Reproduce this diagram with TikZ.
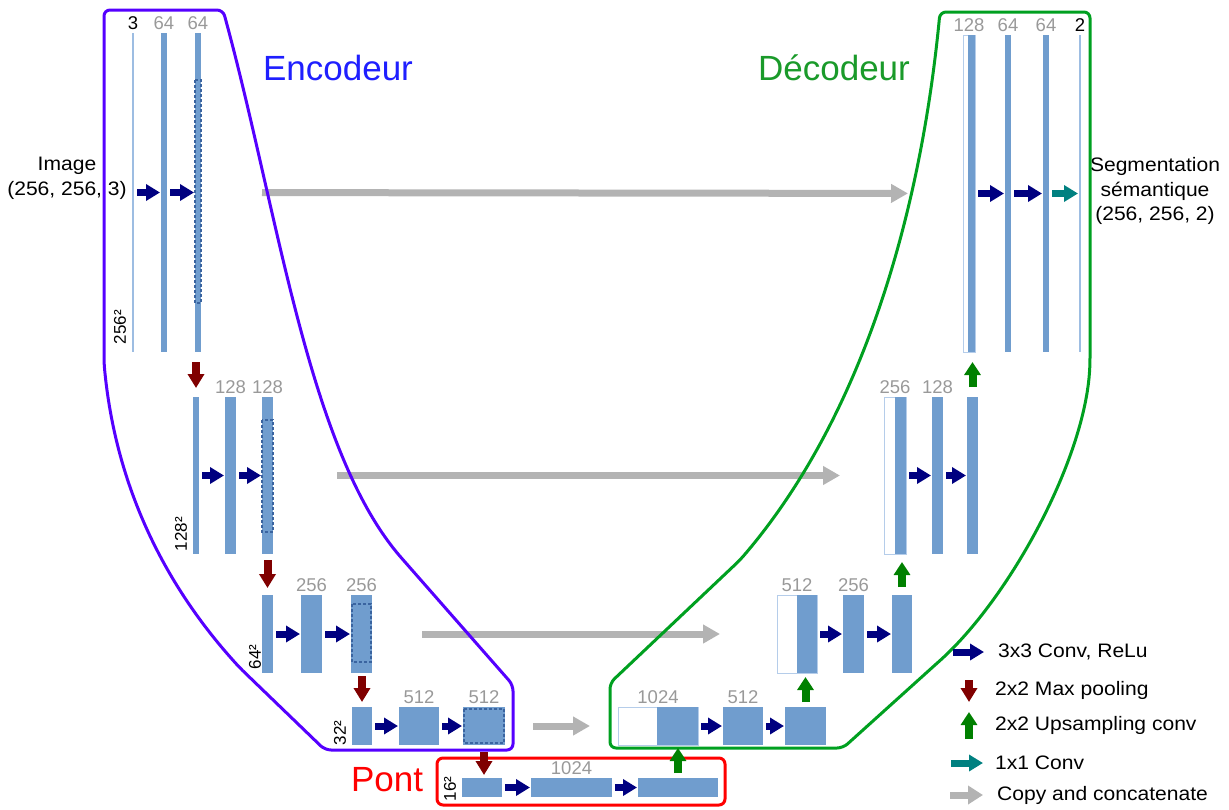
\documentclass[tikz,border=0pt]{standalone}
\usepackage{fontspec}
\setmainfont{Liberation Sans}
\newfontfamily\widefont[FakeStretch=1.08]{Liberation Sans}
\usetikzlibrary{arrows.meta,calc,positioning}
\definecolor{blkc}{HTML}{709DCE}
\definecolor{blkthin}{HTML}{9DBDE2}
\definecolor{blkedge}{HTML}{B5CDEA}
\definecolor{dashblue}{HTML}{3A64A0}
\definecolor{convc}{HTML}{000080}
\definecolor{poolc}{HTML}{800000}
\definecolor{upc}{HTML}{008000}
\definecolor{onec}{HTML}{008080}
\definecolor{copyc}{HTML}{B3B3B3}
\definecolor{encc}{HTML}{5500FF}
\definecolor{decc}{HTML}{00A020}
\definecolor{pontc}{HTML}{FF0000}
\definecolor{numc}{HTML}{999999}
\definecolor{enctxt}{HTML}{1F1FFF}
\definecolor{dectxt}{HTML}{1A9A2A}

\begin{document}
\begin{tikzpicture}[x=1pt,y=-1pt,
  every node/.style={font=\widefont\fontsize{19.5}{24.5}\selectfont},
  blk/.style 2 args={rectangle,fill=blkc,draw=none,inner sep=0pt,outer sep=0pt,minimum width=#1pt,minimum height=#2pt},
  thinblk/.style={blk={2}{#1},fill=blkthin},
  wbox/.style 2 args={blk={#1}{#2},fill=white,draw=blkedge,line width=1pt},
  num/.style={font=\fontsize{18.5}{20}\selectfont,text=numc,inner sep=1pt,label distance=2pt},
  numk/.style={num,text=black},
  dim/.style={font=\fontsize{17}{18}\selectfont,rotate=90,inner sep=0pt},
  title/.style={font=\fontsize{35}{40}\selectfont},
  leg/.style={anchor=west,inner sep=0pt},
  dashin/.style={draw=dashblue,line width=1.2pt,dash pattern=on 3pt off 2pt},
  conv/.style={convc,line width=7pt,-{Triangle[length=14pt,width=16pt]}},
  onebyone/.style={onec,line width=7pt,-{Triangle[length=14pt,width=16pt]}},
  convgap/.style={shorten <=3pt,shorten >=1pt},
  pool/.style={poolc,line width=8pt,-{Triangle[length=14pt,width=16pt]}},
  upconv/.style={upc,line width=8pt,-{Triangle[length=13pt,width=16pt]}},
  copyarr/.style={copyc,line width=7pt,-{Triangle[length=17pt,width=18pt]}},
  encline/.style={draw=encc,line width=3pt,rounded corners=6pt},
  decline/.style={draw=decc,line width=3pt,rounded corners=6pt}]
\useasboundingbox (0,0) rectangle (1229,809);

\node[align=center] (img) at (67,178.5) {Image\\(256, 256, 3)};
\node[align=center] (seg) at (1155,191) {Segmentation\\sémantique\\(256, 256, 2)};

% encodeur
\node[thinblk={319},label={[numk]above:3}] (e11) at (133,192.5) {};
\node[blk={6}{319},label={[num]above:64}] (e12) at (164,192.5) {};
\node[blk={6}{319},label={[num]above:64}] (e13) at (198,192.5) {};
\node[dim] (sz1) at (120,327) {256²};
\node[blk={6}{157}] (e21) at (196,475.5) {};
\node[blk={11}{157},label={[num]above:128}] (e22) at (230.5,475.5) {};
\node[blk={11}{157},label={[num]above:128}] (e23) at (267.5,475.5) {};
\node[dim] (sz2) at (181,534) {128²};
\node[blk={11}{78}] (e31) at (267.5,634) {};
\node[blk={21}{78},label={[num]above:256}] (e32) at (311.5,634) {};
\node[blk={21}{78},label={[num]above:256}] (e33) at (361.5,634) {};
\node[dim] (sz3) at (255,657) {64²};
\node[blk={20}{38}] (e41) at (362,726) {};
\node[blk={40}{38},label={[num]above:512}] (e42) at (419,726) {};
\node[blk={42}{38},label={[num]above:512}] (e43) at (484,726) {};
\node[dim] (sz4) at (340,733) {32²};

% pont
\node[blk={40}{19}] (p1) at (482,787.5) {};
\node[blk={81}{19},label={[num]above:1024}] (p2) at (571.5,787.5) {};
\node[blk={80}{19}] (p3) at (678,787.5) {};
\node[dim] (sz5) at (450,789) {16²};

% decodeur
\node[wbox={80}{38},label={[num]above:1024}] (d41w) at (658,726) {};
\node[blk={41}{38}] (d41) at (677.5,726) {};
\node[blk={40}{38},label={[num]above:512}] (d42) at (743,726) {};
\node[blk={41}{38}] (d43) at (805.5,726) {};
\node[wbox={40}{78},label={[num]above:512}] (d31w) at (797,634) {};
\node[blk={20}{78}] (d31) at (807,634) {};
\node[blk={21}{78},label={[num]above:256}] (d32) at (853.5,634) {};
\node[blk={20}{78}] (d33) at (902,634) {};
\node[wbox={22}{157},label={[num]above:256}] (d21w) at (895,475.5) {};
\node[blk={11}{157}] (d21) at (900.5,475.5) {};
\node[blk={11}{157},label={[num]above:128}] (d22) at (937.5,475.5) {};
\node[blk={11}{157}] (d23) at (972.5,475.5) {};
\node[wbox={12}{317},label={[num]above:128}] (d11w) at (969,193.5) {};
\node[blk={7}{317}] (d11) at (971.5,193.5) {};
\node[blk={6}{317},label={[num]above:64}] (d12) at (1008,193.5) {};
\node[blk={6}{317},label={[num]above:64}] (d13) at (1046,193.5) {};
\node[thinblk={317},label={[numk]above:2}] (d14) at (1080,193.5) {};

\draw[dashin] (195,80) rectangle (201,303);
\draw[dashin] (262,420) rectangle (273,532);
\draw[dashin] (352,604) rectangle (371,662);
\draw[dashin] (464,709) rectangle (504,743);

\draw[copyarr,shorten <=61pt,shorten >=55pt] (e13.east) -- (d11w.west);
\draw[copyarr,shorten <=64pt,shorten >=44pt] (e23.east) -- (d21w.west);
\draw[copyarr,shorten <=50pt,shorten >=57pt] (e33.east) -- (d31w.west);
\draw[copyarr,shorten <=28pt,shorten >=28pt] (e43.east) -- (d41w.west);

\draw[encline] (325,750) -- (240,668) .. controls (160,580) and (115,480) .. (104,363) -- (104,10) -- (223,10) .. controls (278,210) and (308,451) .. (405,562) -- (513,685) -- (513,750) -- cycle;
\draw[decline] (610,683) -- (740,560) .. controls (860,420) and (920,220) .. (940,12) -- (1090,12) -- (1090,363) .. controls (1085,460) and (1009,599) .. (935,665) -- (843,748) -- (610,748) -- cycle;
\draw[draw=pontc,line width=3pt,rounded corners=6pt] (437,758) rectangle (725,805);

\node[title,text=enctxt] (enc) at (338,68) {Encodeur};
\node[title,text=dectxt] (dec) at (834,68) {Décodeur};
\node[title,text=pontc] (pont) at (387,780) {Pont};

\foreach \a/\b in {e11/e12,e12/e13,e21/e22,e22/e23,e31/e32,e32/e33,e41/e42,e42/e43,p1/p2,p2/p3,d41/d42,d42/d43,d31/d32,d32/d33,d21/d22,d22/d23,d11/d12,d12/d13}
  \draw[conv,convgap] (\a.east) -- (\b.west);
\draw[onebyone,convgap] (d13.east) -- (d14.west);

\draw[pool,shorten <=10pt,shorten >=9pt] (e13.south -| e21.north) -- (e21.north);
\draw[pool,shorten <=6pt,shorten >=7pt] (e23.south) -- (e31.north);
\draw[pool,shorten <=3pt,shorten >=5pt] (e33.south -| e41.north) -- (e41.north);
\draw[pool,shorten <=7pt,shorten >=3pt] (e43.south) -- (e43.south |- p1.north);

\draw[upconv,shorten <=5pt,shorten >=3pt] (p3.north) -- (p3.north |- d41.south);
\draw[upconv,shorten <=5pt,shorten >=4pt] (d43.north) -- (d43.north |- d31.south);
\draw[upconv,shorten <=8pt,shorten >=8pt] (d33.north) -- (d33.north |- d21.south);
\draw[upconv,shorten <=10pt,shorten >=10pt] (d23.north) -- (d23.north |- d11.south);

% legende
\node[leg] (k1) at (998,652) {3x3 Conv, ReLu};
\node[leg] (k2) at (995,690) {2x2 Max pooling};
\node[leg] (k3) at (995,725) {2x2 Upsampling conv};
\node[leg] (k4) at (995,763) {1x1 Conv};
\node[leg] (k5) at (997,795) {Copy and concatenate};
\coordinate (k1a) at (953,652); \coordinate (k1b) at (984,652);
\coordinate (k2a) at (969,680); \coordinate (k2b) at (969,702);
\coordinate (k3a) at (969,739); \coordinate (k3b) at (969,712);
\coordinate (k4a) at (951,763); \coordinate (k4b) at (983,763);
\coordinate (k5a) at (950,795); \coordinate (k5b) at (983,795);
\draw[conv] (k1a) -- (k1b);
\draw[pool] (k2a) -- (k2b);
\draw[upconv] (k3a) -- (k3b);
\draw[onebyone] (k4a) -- (k4b);
\draw[copyarr,-{Triangle[length=15pt,width=18pt]}] (k5a) -- (k5b);
\end{tikzpicture}
\end{document}
